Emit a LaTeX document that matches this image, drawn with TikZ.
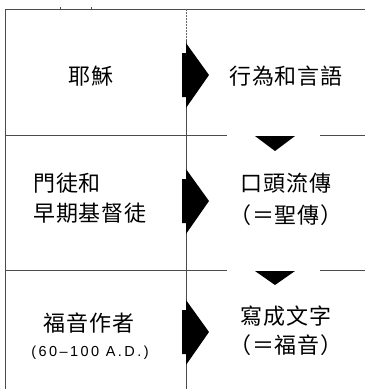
\documentclass[tikz,border=0pt]{standalone}
\usepackage{fontspec}
\newfontfamily\cjk[LetterSpace=4]{Noto Sans CJK TC}
\newfontfamily\datefont[LetterSpace=17]{Liberation Sans}
\tikzset{
  frame/.style={draw=black!70, line width=0.8pt},
  dotframe/.style={draw=black!60, line width=0.8pt, dash pattern=on 1.5pt off 1.5pt},
  bigtext/.style={inner sep=0pt, font=\cjk\fontsize{22}{29.5}\selectfont},
  datetext/.style={inner sep=0pt, font=\datefont\fontsize{14.5}{16}\selectfont},
  arrowshape/.style={fill=black, draw=none}
}
\begin{document}
\begin{tikzpicture}[x=1pt,y=-1pt]
\useasboundingbox (0,0) rectangle (365,389);
% frame
\draw[frame] (5,389) -- (5,9) -- (365,9);
\draw[frame] (60,9) -- (60,7);
\draw[frame] (91,9) -- (91,7);
\draw[dotframe] (186,9) -- (186,40);
\draw[frame] (186,40) -- (186,389);
\draw[frame] (5,135) -- (227,135);
\draw[frame] (320,135) -- (365,135);
\draw[frame] (5,270) -- (227,270);
\draw[frame] (320,270) -- (365,270);
% right arrows
\foreach \c in {75,201,332}{
  \fill[arrowshape] (182,\c-22) -- (186,\c-22) -- (186,\c-32) -- (209,\c) -- (186,\c+33) -- (186,\c+22) -- (182,\c+22) -- cycle;
}
% down arrows
\fill[arrowshape] (255,136) -- (295,136) -- (275,151) -- cycle;
\fill[arrowshape] (255,271) -- (295,271) -- (275,285) -- cycle;
% texts
\node[bigtext] (jesus) at (91,76) {耶穌};
\node[bigtext] (deeds) at (286,76) {行為和言語};
\node[bigtext, align=left] (disciples) at (90,198) {門徒和\\早期基督徒};
\node[bigtext, align=center, font=\cjk\fontsize{22}{32}\selectfont] (oral) at (286,199.5) {口頭流傳\\（＝聖傳）};
\node[bigtext] (authors) at (89,323) {福音作者};
\node[datetext] (date) at (90,353) {(60–100 A.D.)};
\node[bigtext, align=center, font=\cjk\fontsize{22}{29}\selectfont] (written) at (286,331) {寫成文字\\（＝福音）};
\end{tikzpicture}
\end{document}
